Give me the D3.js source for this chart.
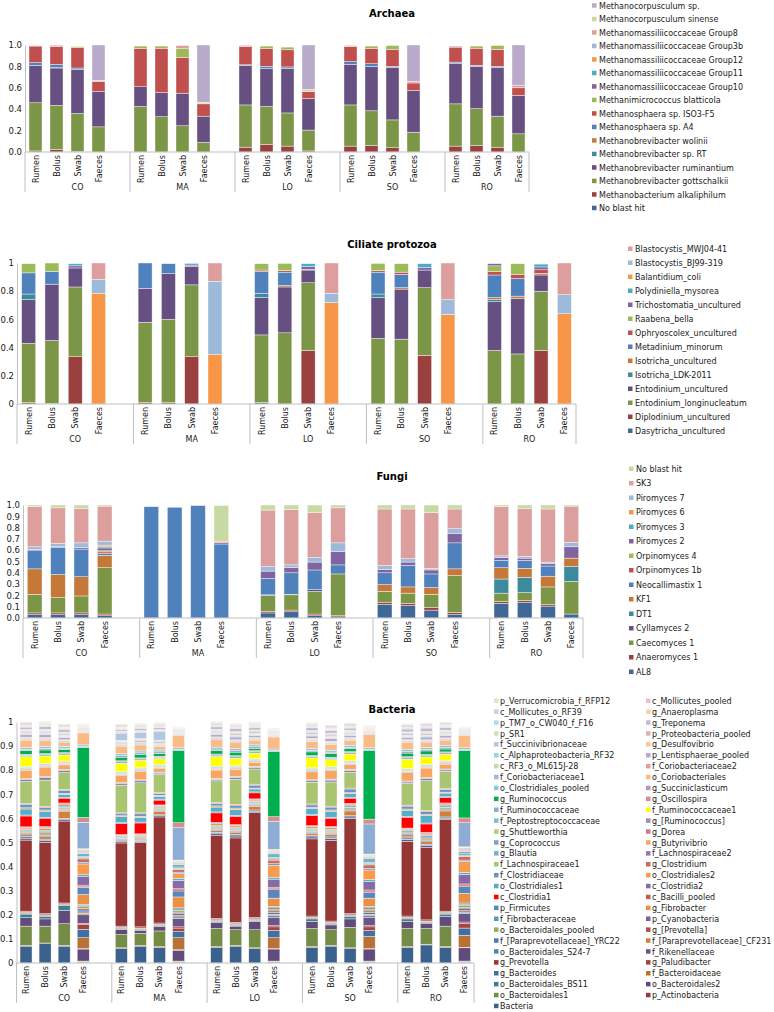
<!DOCTYPE html>
<html><head><meta charset="utf-8">
<script src="https://cdnjs.cloudflare.com/ajax/libs/d3/7.8.5/d3.min.js"></script>
<style>body{margin:0;background:#fff}svg{display:block;font-family:"DejaVu Sans",sans-serif}</style>
</head><body><svg id="c" width="774" height="1012"></svg>
<script>
const groups = ["CO","MA","LO","SO","RO"];
const samples = ["Rumen","Bolus","Swab","Faeces"];

const archaeaTicks = [0,0.2,0.4,0.6,0.8,1.0];
const ciliateTicks = [0,0.2,0.4,0.6,0.8,1];
const fungiTicks = [0,0.1,0.2,0.3,0.4,0.5,0.6,0.7,0.8,0.9,1.0];
const bacteriaTicks = [0,0.1,0.2,0.3,0.4,0.5,0.6,0.7,0.8,0.9,1];

// series listed bottom -> top; each row = 20 bars (CO R,B,S,F, MA ..., LO ..., SO ..., RO ...)
const archaeaNames = ["No blast hit","Methanobacterium alkaliphilum","Methanobrevibacter gottschalkii","Methanobrevibacter ruminantium","Methanobrevibacter sp. RT","Methanobrevibacter wolinii","Methanosphaera sp. A4","Methanosphaera sp. ISO3-F5","Methanimicrococcus blatticola","Methanomassiliicoccaceae Group10","Methanomassiliicoccaceae Group11","Methanomassiliicoccaceae Group12","Methanomassiliicoccaceae Group3b","Methanomassiliicoccaceae Group8","Methanocorpusculum sinense","Methanocorpusculum sp."];
const archaeaValues = [
 [0,0,0,0, 0,0,0,0, 0,0,0,0, 0,0,0,0, 0,0,0,0],
 [.01,.025,.005,0, 0,0,0,0, .045,.07,.055,.01, .055,.06,.04,0, .055,.06,.045,0],
 [.45,.41,.355,.235, .425,.33,.245,.09, .395,.355,.31,.195, .385,.325,.26,.185, .395,.345,.29,.17],
 [.35,.35,.41,.33, .185,.225,.305,.245, .37,.355,.415,.295, .38,.415,.49,.39, .38,.395,.455,.36],
 [0,.003,0,0, 0,0,0,0, 0,0,0,0, 0,0,0,0, 0,0,0,0],
 [0,0,0,0, 0,0,0,0, 0,0,0,0, 0,0,0,0, 0,0,0,0],
 [.025,.03,.015,0, 0,0,0,0, .005,.02,.015,0, .025,.025,.01,0, .01,.01,.01,0],
 [.155,.17,.19,.095, .355,.415,.335,.115, .17,.165,.16,.065, .14,.14,.16,.07, .14,.16,.16,.07],
 [0,0,.01,0, .025,.02,.08,0, 0,.025,.025,0, 0,.025,.035,0, 0,.02,.035,0],
 [0,0,0,0, 0,0,0,0, 0,0,0,0, 0,0,0,0, 0,0,0,0],
 [0,0,0,0, 0,0,0,0, 0,0,0,0, 0,0,0,0, 0,0,0,0],
 [0,0,0,0, 0,0,0,0, 0,0,0,0, 0,0,0,0, 0,0,0,0],
 [0,0,0,0, 0,0,0,0, 0,0,0,0, 0,0,0,0, 0,0,0,0],
 [.005,.01,0,.01, 0,0,.03,0, .012,0,0,0, .01,0,0,.015, .01,0,0,.025],
 [0,0,.005,0, 0,0,0,.015, 0,0,0,.02, 0,0,0,0, 0,0,0,0],
 [0,0,0,.33, 0,0,0,.535, 0,0,0,.415, 0,0,0,.34, 0,0,0,.375]
];

const ciliateNames = ["Dasytricha_uncultured","Diplodinium_uncultured","Entodinium_longinucleatum","Entodinium_uncultured","Isotricha_LDK-2011","Isotricha_uncultured","Metadinium_minorum","Ophryoscolex_uncultured","Raabena_bella","Trichostomatia_uncultured","Polydiniella_mysorea","Balantidium_coli","Blastocystis_BJ99-319","Blastocystis_MWJ04-41"];
const ciliateValues = [
 [0,0,0,0, 0,0,0,0, .01,0,0,0, 0,0,0,0, 0,0,0,0],
 [.01,.005,.335,0, .01,.01,.335,0, 0,0,.38,0, 0,0,.345,0, 0,0,.38,0],
 [.42,.445,.495,0, .57,.59,.51,0, .48,.505,.48,0, .465,.46,.48,0, .38,.355,.42,0],
 [.31,.4,.135,0, .24,.325,.13,0, .265,.325,.09,0, .29,.355,.125,0, .345,.395,.115,0],
 [.04,0,0,0, 0,0,0,0, .03,0,0,0, .025,0,0,0, .015,0,0,0],
 [0,0,0,0, 0,0,0,0, 0,.01,0,0, 0,.01,0,0, .015,.015,.012,0],
 [.15,.09,0,0, .18,.07,0,0, .155,.095,0,0, .155,.095,0,0, .16,.125,0,0],
 [0,0,0,0, 0,0,0,0, .01,.012,.005,0, .012,.015,0,0, .025,.03,.025,0],
 [.065,.06,0,0, 0,0,0,0, .045,.05,0,0, .05,.06,0,0, .04,.075,0,0],
 [0,0,.015,0, 0,0,.01,0, 0,0,.02,0, 0,0,.02,0, .015,0,.02,0],
 [0,0,.015,0, 0,0,.012,0, 0,0,.02,0, 0,0,.025,0, 0,0,.02,0],
 [0,0,0,.785, 0,0,0,.35, 0,0,0,.72, 0,0,0,.635, 0,0,0,.64],
 [0,0,0,.1, 0,0,0,.52, 0,0,0,.065, 0,0,0,.105, 0,0,0,.135],
 [0,0,0,.115, 0,0,0,.13, 0,0,0,.215, 0,0,0,.26, 0,0,0,.225]
];

const fungiNames = ["AL8","Anaeromyces 1","Caecomyces 1","Cyllamyces 2","DT1","KF1","Neocallimastix 1","Orpinomyces 1b","Orpinomyces 4","Piromyces 2","Piromyces 3","Piromyces 6","Piromyces 7","SK3","No blast hit"];
const fungiValues = [
 [.03,.03,.03,.02, 0,0,0,0, .045,.055,.02,.01, .12,.11,.07,.03, .13,.14,.105,.035],
 [.015,.015,.015,.015, 0,0,0,0, .015,.015,.015,.01, .015,.02,.025,.02, .015,.015,.015,0],
 [.165,.135,.15,.41, 0,0,0,0, .14,.135,.2,.37, .1,.09,.115,.325, .075,.07,.155,.29],
 [0,0,0,0, 0,0,0,0, .005,.005,.015,0, 0,0,0,0, 0,0,0,0],
 [0,0,0,0, 0,0,0,0, 0,0,0,0, 0,0,0,0, .125,.135,0,.13],
 [.225,.205,.17,.11, 0,0,0,0, 0,0,0,0, .06,.055,.06,.06, .1,.08,.095,.075],
 [.16,.24,.245,.015, .985,.98,.995,.655, .145,.19,.175,.08, .105,.19,.12,.23, .065,.07,.09,0],
 [0,0,0,.015, 0,0,0,0, 0,0,0,0, 0,0,0,0, 0,0,0,0],
 [0,0,0,.01, 0,0,0,0, 0,0,0,0, 0,0,0,0, 0,0,0,0],
 [.01,.01,.015,.025, 0,0,0,.015, .065,.045,.07,.12, .03,.03,.035,.085, .025,.02,.02,.1],
 [0,0,0,.01, 0,0,0,0, 0,0,0,0, 0,0,0,0, 0,0,0,0],
 [0,0,0,.015, 0,0,0,.01, 0,0,0,0, 0,0,0,0, 0,0,0,0],
 [.025,.025,.04,.035, 0,0,0,0, .04,.025,.04,.075, .035,.03,.015,.04, .015,.015,.015,.04],
 [.355,.315,.305,.31, 0,0,0,0, .5,.49,.4,.31, .5,.44,.495,.175, .435,.425,.47,.32],
 [.015,.025,.03,.01, 0,0,0,.315, .045,.04,.065,.025, .035,.035,.065,.035, .015,.03,.035,.01]
];

const bacteriaNames = ["Bacteria","p_Actinobacteria","o_Bacteroidales1","o_Bacteroidales2","o_Bacteroidales_BS11","f_Bacteroidaceae","g_Bacteroides","g_Paludibacter","g_Prevotella","f_Rikenellaceae","o_Bacteroidales_S24-7","f_[Paraprevotellaceae]_CF231","f_[Paraprevotellaceae]_YRC22","g_[Prevotella]","o_Bacteroidales_pooled","p_Cyanobacteria","f_Fibrobacteraceae","g_Fibrobacter","p_Firmicutes","c_Bacilli_pooled","c_Clostridia1","c_Clostridia2","o_Clostridiales1","o_Clostridiales2","f_Clostridiaceae","g_Clostridium","f_Lachnospiraceae1","f_Lachnospiraceae2","g_Blautia","g_Butyrivibrio","g_Coprococcus","g_Dorea","g_Shuttleworthia","g_[Ruminococcus]","f_Peptostreptococcaceae","f_Ruminococcaceae1","f_Ruminococcaceae","g_Oscillospira","g_Ruminococcus","g_Succiniclasticum","o_Clostridiales_pooled","o_Coriobacteriales","f_Coriobacteriaceae1","f_Coriobacteriaceae2","c_RF3_o_ML615J-28","p_Lentisphaerae_pooled","c_Alphaproteobacteria_RF32","g_Desulfovibrio","f_Succinivibrionaceae","p_Proteobacteria_pooled","p_SR1","g_Treponema","p_TM7_o_CW040_f_F16","g_Anaeroplasma","c_Mollicutes_o_RF39","c_Mollicutes_pooled","p_Verrucomicrobia_f_RFP12"];
const bacteriaValues = [
 [.07,.08,.07,.003, .06,.07,.065,.003, .065,.07,.06,.003, .065,.07,.06,.003, .065,.075,.065,.003],
 [.003,.003,.003,.002, .003,.003,.003,.002, .003,.003,.003,.002, .003,.003,.003,.002, .003,.003,.003,.002],
 [.08,.07,.09,.003, .055,.05,.065,.003, .075,.065,.075,.003, .075,.065,.085,.003, .075,.065,.085,.003],
 [.035,.03,.055,.05, .02,.012,.018,.045, .025,.015,.035,.05, .03,.02,.035,.05, .03,.02,.04,.055],
 [.015,.01,.02,.002, .003,.003,.003,.002, .005,.004,.004,.002, .01,.004,.01,.002, .01,.004,.01,.002],
 [.004,.004,.004,.045, .004,.004,.004,.05, .004,.004,.004,.045, .004,.004,.004,.05, .004,.004,.004,.05],
 [.003,.003,.003,.035, .003,.003,.003,.025, .003,.003,.003,.03, .003,.003,.003,.025, .003,.003,.003,.03],
 [.005,.005,.004,.02, .005,.005,.005,.015, .005,.005,.005,.015, .005,.005,.005,.015, .005,.005,.005,.02],
 [.295,.295,.34,.005, .345,.35,.44,.005, .343,.35,.435,.005, .32,.335,.395,.005, .31,.3,.38,.005],
 [.008,.008,.006,.035, .005,.005,.005,.035, .008,.008,.006,.035, .008,.008,.006,.035, .008,.008,.006,.035],
 [.006,.006,.005,.006, .004,.004,.004,.006, .006,.006,.005,.006, .006,.006,.005,.006, .006,.006,.005,.006],
 [.008,.01,.03,.006, .005,.005,.015,.006, .008,.008,.015,.006, .008,.01,.02,.006, .008,.01,.025,.006],
 [.005,.006,.004,.008, .003,.003,.004,.008, .005,.005,.004,.008, .005,.005,.004,.008, .005,.006,.004,.008],
 [.004,.005,.004,.006, .003,.003,.003,.006, .004,.004,.004,.006, .004,.004,.004,.006, .004,.005,.004,.006],
 [.005,.006,.005,.008, .004,.004,.005,.008, .005,.005,.005,.008, .005,.005,.005,.008, .005,.005,.005,.008],
 [.003,.004,.003,.005, .002,.002,.003,.005, .003,.003,.003,.005, .003,.003,.003,.005, .003,.004,.003,.005],
 [.005,.006,.005,.005, .003,.003,.004,.005, .005,.005,.005,.005, .005,.005,.005,.005, .005,.006,.005,.005],
 [.006,.008,.006,.04, .003,.004,.004,.045, .006,.006,.005,.035, .006,.006,.005,.035, .006,.006,.005,.04],
 [.003,.004,.004,.03, .002,.002,.002,.025, .003,.003,.003,.035, .003,.003,.003,.025, .003,.004,.004,.03],
 [.002,.003,.003,.005, .001,.001,.001,.005, .002,.002,.002,.005, .002,.002,.002,.005, .002,.003,.003,.005],
 [.045,.035,.02,.004, .045,.045,.02,.004, .04,.035,.025,.004, .042,.035,.022,.004, .045,.035,.022,.004],
 [.004,.004,.004,.035, .004,.004,.004,.035, .004,.004,.004,.035, .004,.004,.004,.035, .004,.004,.004,.04],
 [.025,.025,.012,.008, .025,.02,.012,.008, .02,.025,.012,.008, .025,.025,.015,.008, .025,.03,.015,.008],
 [.005,.005,.004,.045, .004,.004,.004,.02, .005,.005,.004,.05, .005,.005,.004,.04, .005,.005,.004,.045],
 [.015,.01,.012,.006, .008,.01,.008,.006, .01,.01,.012,.006, .01,.012,.015,.006, .012,.012,.012,.006],
 [.004,.004,.004,.015, .004,.004,.003,.01, .004,.004,.004,.015, .004,.004,.004,.015, .004,.004,.004,.015],
 [.09,.11,.07,.006, .115,.125,.075,.006, .09,.105,.063,.006, .09,.1,.065,.006, .09,.125,.07,.006],
 [.008,.01,.008,.005, .006,.008,.006,.005, .006,.008,.006,.005, .006,.008,.008,.005, .006,.008,.006,.005],
 [.004,.004,.004,.012, .004,.004,.004,.01, .004,.004,.004,.015, .004,.004,.004,.015, .004,.004,.004,.01],
 [.035,.04,.02,.004, .03,.035,.015,.004, .035,.03,.018,.004, .035,.035,.02,.004, .035,.04,.02,.004],
 [.003,.003,.003,.003, .003,.003,.003,.003, .003,.003,.003,.003, .003,.003,.003,.003, .003,.003,.003,.003],
 [.003,.003,.003,.003, .003,.003,.003,.003, .003,.003,.003,.003, .003,.003,.003,.003, .003,.003,.003,.003],
 [.004,.004,.004,.002, .004,.004,.004,.002, .004,.004,.004,.002, .004,.004,.004,.002, .004,.004,.004,.002],
 [.003,.003,.003,.003, .003,.003,.003,.003, .003,.003,.003,.003, .003,.003,.003,.003, .003,.003,.003,.003],
 [.003,.003,.003,.002, .003,.003,.003,.002, .003,.003,.003,.002, .003,.003,.003,.002, .003,.003,.003,.002],
 [.04,.03,.025,.002, .035,.03,.025,.002, .04,.03,.022,.002, .04,.03,.028,.002, .04,.03,.025,.002],
 [.006,.006,.006,.11, .006,.006,.006,.135, .006,.006,.006,.115, .006,.006,.006,.125, .006,.006,.006,.1],
 [.004,.004,.004,.02, .004,.004,.004,.02, .004,.004,.004,.02, .004,.004,.004,.02, .004,.004,.004,.02],
 [.015,.015,.012,.29, .015,.015,.012,.3, .015,.015,.01,.27, .015,.015,.012,.285, .015,.015,.012,.28],
 [.006,.006,.006,.005, .006,.006,.006,.005, .006,.006,.006,.005, .006,.006,.006,.005, .006,.006,.006,.005],
 [.008,.008,.008,.006, .008,.008,.008,.006, .008,.008,.008,.006, .008,.008,.008,.006, .008,.008,.008,.006],
 [.03,.025,.015,.05, .03,.025,.015,.05, .03,.025,.018,.05, .03,.025,.02,.055, .03,.02,.02,.05],
 [.004,.004,.004,.003, .004,.004,.004,.003, .004,.004,.004,.003, .004,.004,.004,.003, .004,.004,.004,.003],
 [.004,.004,.004,.003, .004,.004,.004,.003, .004,.004,.004,.003, .004,.004,.004,.003, .004,.004,.004,.003],
 [.004,.004,.004,.002, .004,.004,.004,.002, .004,.004,.004,.002, .004,.004,.004,.002, .004,.004,.004,.002],
 [.01,.012,.01,.003, .006,.006,.006,.003, .01,.012,.01,.003, .01,.012,.008,.003, .01,.012,.01,.003],
 [.004,.004,.004,.002, .004,.004,.004,.002, .004,.004,.004,.002, .004,.004,.004,.002, .004,.004,.004,.002],
 [.004,.004,.004,.003, .004,.004,.004,.003, .004,.004,.004,.003, .004,.004,.004,.003, .004,.004,.004,.003],
 [.006,.006,.006,.002, .03,.025,.035,.002, .006,.006,.006,.002, .006,.006,.006,.002, .006,.006,.006,.002],
 [.004,.004,.004,.003, .004,.004,.004,.003, .004,.004,.004,.003, .004,.004,.004,.003, .004,.004,.004,.003],
 [.004,.004,.004,.002, .004,.004,.004,.002, .004,.004,.004,.002, .004,.004,.004,.002, .004,.004,.004,.002],
 [.01,.012,.012,.003, .008,.008,.008,.003, .01,.012,.01,.003, .012,.012,.01,.003, .012,.015,.012,.003],
 [.004,.004,.004,.002, .004,.004,.004,.002, .004,.004,.004,.002, .004,.004,.004,.002, .004,.004,.004,.002],
 [.004,.004,.004,.003, .004,.004,.004,.003, .004,.004,.004,.003, .004,.004,.004,.003, .004,.004,.004,.003],
 [.005,.005,.005,.002, .005,.005,.005,.002, .005,.005,.005,.002, .005,.005,.005,.002, .005,.005,.005,.002],
 [.005,.005,.005,.002, .005,.005,.005,.002, .005,.005,.005,.002, .005,.005,.005,.002, .005,.005,.005,.002],
 [.004,.004,.004,.002, .004,.004,.004,.002, .004,.004,.004,.002, .004,.004,.004,.002, .004,.004,.004,.002]
];

// ---------- colours (Excel-like theme shading) ----------
const accents = ["#4F81BD","#C0504D","#9BBB59","#8064A2","#4BACC6","#F79646"];
function tone(hex, t){
  const c = d3.rgb(hex);
  if (t < 0) return d3.rgb(c.r*(1+t), c.g*(1+t), c.b*(1+t)).formatHex();
  return d3.rgb(c.r+(255-c.r)*t, c.g+(255-c.g)*t, c.b+(255-c.b)*t).formatHex();
}
function excelColors(n, tones){ return d3.range(n).map(i => tone(accents[i%6], tones[Math.floor(i/6)])); }
const tones3 = [-0.2, 0, 0.45];
const tones10 = [-0.25,-0.15,-0.05,0.05,0.15,0.25,0.35,0.45,0.55,0.65];
const bacteriaColors = excelColors(bacteriaNames.length, tones10);
bacteriaColors[8] = "#953735"; bacteriaColors[20] = "#FF0000";
bacteriaColors[35] = "#FFFF00"; bacteriaColors[38] = "#00B050";

const svg = d3.select("#c");
const txt = "#1a1a1a", gridc = "#BFBFBF";

function slotsFor(){
  const s = [];
  groups.forEach((g,gi) => { samples.forEach(sm => s.push(g+"|"+sm)); if (gi < groups.length-1) s.push(g+"|gap"); });
  return s;
}
const barKeys = [];
groups.forEach(g => samples.forEach(sm => barKeys.push(g+"|"+sm)));

function drawPanel(p){
  const g = svg.append("g");
  g.append("text").attr("x",392).attr("y",p.titleY).attr("text-anchor","middle")
    .attr("font-size",10).attr("font-weight","bold").attr("fill","#000").text(p.title);
  const x = d3.scaleBand().domain(slotsFor()).range([p.x0,p.x1]).paddingInner(p.pad).paddingOuter(p.pad/2);
  const y = d3.scaleLinear().domain([0,1]).range([p.yBot,p.yTop]);
  const step = x.step();

  const stack = d3.stack().keys(d3.range(p.names.length)).value((j,k)=>p.values[k][j]);
  const layers = stack(d3.range(barKeys.length));
  g.selectAll("g.layer").data(layers).join("g").attr("fill",(d,i)=>p.colors[i])
    .selectAll("rect").data(d=>d.map(v=>({v, j:v.data}))).join("rect")
    .attr("x",d=>x(barKeys[d.j])).attr("width",x.bandwidth())
    .attr("y",d=>y(d.v[1])).attr("height",d=>Math.max(0,y(d.v[0])-y(d.v[1])))
    .attr("stroke","#fff").attr("stroke-width",0.5).attr("stroke-opacity",0.8);

  const ax = g.append("g").attr("transform",`translate(${p.x0},0)`)
    .call(d3.axisLeft(y).tickValues(p.ticks).tickFormat(p.fmt).tickSize(0).tickPadding(3));
  ax.select(".domain").attr("stroke",gridc);
  ax.selectAll("text").attr("font-size",8.5).attr("fill",txt).attr("font-family","DejaVu Sans");
  g.append("line").attr("x1",p.x0).attr("x2",p.x1).attr("y1",p.yBot).attr("y2",p.yBot).attr("stroke",gridc);
  const seps = groups.map((gg,gi)=>p.x0 + gi*5*step).concat([p.x1]);
  g.selectAll("line.sep").data(seps).join("line").attr("class","sep")
    .attr("x1",d=>d).attr("x2",d=>d).attr("y1",p.yBot).attr("y2",p.yBot+40).attr("stroke",gridc);
  g.selectAll("text.cat").data(barKeys).join("text").attr("class","cat")
    .attr("transform",d=>`translate(${x(d)+x.bandwidth()/2+3},${p.yBot+3}) rotate(-90)`)
    .attr("text-anchor","end").attr("font-size",8).attr("fill",txt).text(d=>d.split("|")[1]);
  g.selectAll("text.grp").data(groups).join("text").attr("class","grp")
    .attr("x",(d,i)=>(seps[i]+seps[i+1])/2).attr("y",p.yBot+38)
    .attr("text-anchor","middle").attr("font-size",8).attr("fill",txt).text(d=>d);

  p.legend.forEach(col => {
    const items = col.idx;
    const lg = g.append("g");
    lg.selectAll("rect").data(items).join("rect")
      .attr("x",col.x).attr("y",(d,i)=>col.y+i*col.step-2.5).attr("width",4.5).attr("height",4.5)
      .attr("fill",d=>p.colors[d]);
    lg.selectAll("text").data(items).join("text")
      .attr("x",col.x+col.dx).attr("y",(d,i)=>col.y+i*col.step).attr("dy","0.35em")
      .attr("font-size",8).attr("fill",txt).text(d=>p.names[d]);
  });
}

const rev = n => d3.range(n).reverse();
const fmt1 = d => d.toFixed(1);
const fmtShort = d => String(+d.toFixed(1));

drawPanel({title:"Archaea", titleY:17, names:archaeaNames, values:archaeaValues,
  colors:excelColors(archaeaNames.length,tones3), ticks:archaeaTicks, fmt:fmt1,
  x0:25, x1:529, yTop:45, yBot:152, pad:0.38,
  legend:[{idx:rev(archaeaNames.length), x:592, dx:7, y:5.7, step:13.5}]});
drawPanel({title:"Ciliate protozoa", titleY:248, names:ciliateNames, values:ciliateValues,
  colors:excelColors(ciliateNames.length,tones3), ticks:ciliateTicks, fmt:fmtShort,
  x0:17, x1:576, yTop:263, yBot:404, pad:0.4,
  legend:[{idx:rev(ciliateNames.length), x:628, dx:7, y:249, step:14}]});
drawPanel({title:"Fungi", titleY:480, names:fungiNames, values:fungiValues,
  colors:excelColors(fungiNames.length,tones3), ticks:fungiTicks, fmt:fmt1,
  x0:23, x1:583, yTop:505, yBot:618, pad:0.37,
  legend:[{idx:rev(fungiNames.length), x:629, dx:7, y:469, step:14.5}]});
drawPanel({title:"Bacteria", titleY:713, names:bacteriaNames, values:bacteriaValues,
  colors:bacteriaColors, ticks:bacteriaTicks, fmt:fmtShort,
  x0:16.5, x1:474, yTop:722, yBot:963, pad:0.37,
  legend:[{idx:rev(bacteriaNames.length).filter(i=>i%2===0), x:494, dx:6, y:701, step:10.9},
          {idx:rev(bacteriaNames.length).filter(i=>i%2===1), x:646, dx:6, y:701, step:10.9}]});
</script></body></html>
